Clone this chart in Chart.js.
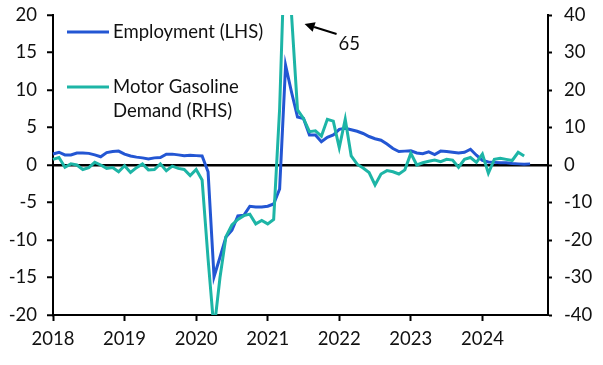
<!DOCTYPE html>
<html>
<head>
<meta charset="utf-8">
<script src="https://cdn.jsdelivr.net/npm/chart.js@4.4.1/dist/chart.umd.min.js"></script>
<style>
  html, body { margin: 0; padding: 0; background: #ffffff; }
  #wrap { position: relative; width: 603px; height: 365px; }
</style>
</head>
<body>
<div id="wrap"><canvas id="c" width="603" height="365"></canvas></div>
<script>
// ---- data ----
const years = ['2018', '2019', '2020', '2021', '2022', '2023', '2024'];
const monthNums = ['01','02','03','04','05','06','07','08','09','10','11','12'];
// categories: monthly, Jan 2018 .. Dec 2024
const categories = [];
years.forEach(y => monthNums.forEach(m => categories.push(y + '-' + m)));

const seriesNames = ['Employment (LHS)', 'Motor Gasoline', 'Demand (RHS)'];

// Employment, % y/y (left axis), Jan 2018 .. Sep 2024
const employment = [
  1.47, 1.7, 1.35, 1.35, 1.6, 1.6, 1.55, 1.35, 1.1, 1.65, 1.8, 1.85,
  1.45, 1.2, 1.05, 0.95, 0.8, 0.95, 1.0, 1.45, 1.45, 1.35, 1.25, 1.3,
  1.25, 1.2, -0.9, -14.9, -12.3, -9.6, -8.7, -6.8, -6.7, -5.5, -5.6, -5.6,
  -5.5, -5.2, -3.2, 13.3, 9.7, 6.4, 6.2, 4.0, 4.0, 3.1, 3.7, 4.0,
  4.75, 4.9, 4.7, 4.5, 4.2, 3.8, 3.5, 3.3, 2.8, 2.2, 1.8, 1.85,
  1.9, 1.6, 1.5, 1.75, 1.4, 1.85, 1.8, 1.7, 1.6, 1.7, 2.1, 1.3,
  0.6, 0.4, 0.35, 0.3, 0.3, 0.2, 0.15, 0.1, 0.15
];

// Motor gasoline demand, % y/y (right axis), Jan 2018 .. Aug 2024
const gasoline = [
  1.5, 2.0, -0.6, 0.3, 0, -1.2, -0.7, 0.7, 0, -0.9, -0.7, -1.8,
  -0.2, -2.0, -0.7, 0.3, -1.3, -1.2, 0.3, -1.5, -0.3, -0.9, -1.2, -2.8,
  -1.2, -4.0, -25, -44, -30, -19.1, -16, -14.5, -13.5, -13.1, -15.7, -14.8,
  -15.7, -14.5, 15, 65, 40, 14.7, 12.4, 8.9, 9.1, 7.7, 12.2, 11.7,
  4.6, 12.2, 2.4, 0.2, -0.8, -2.0, -5.3, -2.4, -1.5, -1.8, -2.4, -1.3,
  3.1, 0, 0.6, 1.0, 1.3, 0.9, 1.5, 1.3, -0.6, 1.5, 2.0, 0.7,
  2.9, -2.2, 1.5, 1.8, 1.5, 1.2, 3.4, 2.4
];

const leftTicks = [-20, -15, -10, -5, 0, 5, 10, 15, 20];
const rightTicks = [-40, -30, -20, -10, 0, 10, 20, 30, 40];
const peakLabel = '65';

// ---- styles ----
const BLUE = '#2356d3';
const TEAL = '#1db5a6';
const FONT = 'Lato, "Open Sans", sans-serif';
const FS = 18.5;
const TXT = '#111111';

function noPad(s) { s.paddingTop = 0; s.paddingBottom = 0; s.paddingLeft = 0; s.paddingRight = 0; }

const overlay = {
  id: 'overlay',
  afterDraw(chart) {
    const ctx = chart.ctx;
    ctx.save();
    // legend
    ctx.lineWidth = 3;
    ctx.lineCap = 'butt';
    ctx.strokeStyle = BLUE;
    ctx.beginPath(); ctx.moveTo(67, 32); ctx.lineTo(109, 32); ctx.stroke();
    ctx.strokeStyle = TEAL;
    ctx.beginPath(); ctx.moveTo(67, 87); ctx.lineTo(109, 87); ctx.stroke();
    ctx.fillStyle = TXT;
    ctx.font = FS + 'px ' + FONT;
    ctx.textBaseline = 'middle';
    ctx.textAlign = 'left';
    ctx.fillText(seriesNames[0], 113, 32);
    ctx.fillText(seriesNames[1], 113, 87);
    ctx.fillText(seriesNames[2], 113, 111);
    // annotation arrow pointing at off-scale peak
    const peakIdx = gasoline.indexOf(Math.max(...gasoline));
    const xs = chart.scales.x;
    const px = xs.getPixelForValue(peakIdx);
    const tipX = px + 19, tipY = 24, tailX = px + 51, tailY = 34;
    const ang = Math.atan2(tipY - tailY, tipX - tailX);
    ctx.strokeStyle = '#000';
    ctx.fillStyle = '#000';
    ctx.lineWidth = 2;
    const headLen = 10, headW = 5;
    const bx = tipX - headLen * Math.cos(ang), by = tipY - headLen * Math.sin(ang);
    ctx.beginPath(); ctx.moveTo(tailX, tailY); ctx.lineTo(bx, by); ctx.stroke();
    ctx.beginPath();
    ctx.moveTo(tipX, tipY);
    ctx.lineTo(bx + headW * Math.sin(ang), by - headW * Math.cos(ang));
    ctx.lineTo(bx - headW * Math.sin(ang), by + headW * Math.cos(ang));
    ctx.closePath(); ctx.fill();
    ctx.fillStyle = TXT;
    ctx.textAlign = 'left';
    ctx.fillText(peakLabel, px + 53, 44);
    ctx.restore();
  }
};

new Chart(document.getElementById('c'), {
  type: 'line',
  data: {
    labels: categories,
    datasets: [
      { label: seriesNames[0], data: employment, yAxisID: 'y', borderColor: BLUE, borderWidth: 3,
        pointRadius: 0, tension: 0, order: 1 },
      { label: seriesNames[1] + ' ' + seriesNames[2], data: gasoline, yAxisID: 'y2', borderColor: TEAL, borderWidth: 3,
        pointRadius: 0, tension: 0, order: 0 }
    ]
  },
  options: {
    responsive: false,
    animation: false,
    events: [],
    layout: { padding: { top: 15, left: 0, right: 0, bottom: 0 } },
    plugins: { legend: { display: false }, tooltip: { enabled: false } },
    scales: {
      x: {
        type: 'category',
        offset: false,
        afterFit(s) { s.height = 50; noPad(s); },
        grid: { drawOnChartArea: false, drawTicks: true, tickLength: 6, tickColor: '#000', tickWidth: 2 },
        border: { display: true, color: '#000', width: 2 },
        ticks: {
          autoSkip: false, maxRotation: 0, padding: 7, color: TXT,
          font: { family: FONT, size: FS },
          callback(v, i) { const c = categories[i]; return c.endsWith('-01') ? c.slice(0, 4) : null; }
        }
      },
      y: {
        position: 'left', min: -20, max: 20,
        afterFit(s) { s.width = 53; noPad(s); },
        afterBuildTicks(s) { s.ticks = leftTicks.map(v => ({ value: v })); },
        grid: {
          drawOnChartArea: true, drawTicks: true, tickLength: 6, tickWidth: 2, tickColor: '#000',
          lineWidth: 2.5,
          color(ctx) { return ctx.tick && ctx.tick.value === 0 ? '#000' : 'rgba(0,0,0,0)'; }
        },
        border: { display: true, color: '#000', width: 2 },
        ticks: { padding: 10, color: TXT, font: { family: FONT, size: FS } }
      },
      y2: {
        position: 'right', min: -40, max: 40,
        afterFit(s) { s.width = 55; noPad(s); },
        afterBuildTicks(s) { s.ticks = rightTicks.map(v => ({ value: v })); },
        grid: { drawOnChartArea: false, drawTicks: true, tickLength: 4, tickWidth: 2, tickColor: '#000' },
        border: { display: true, color: '#000', width: 2 },
        ticks: { padding: 12, color: TXT, font: { family: FONT, size: FS } }
      }
    }
  },
  plugins: [overlay]
});
</script>
</body>
</html>
